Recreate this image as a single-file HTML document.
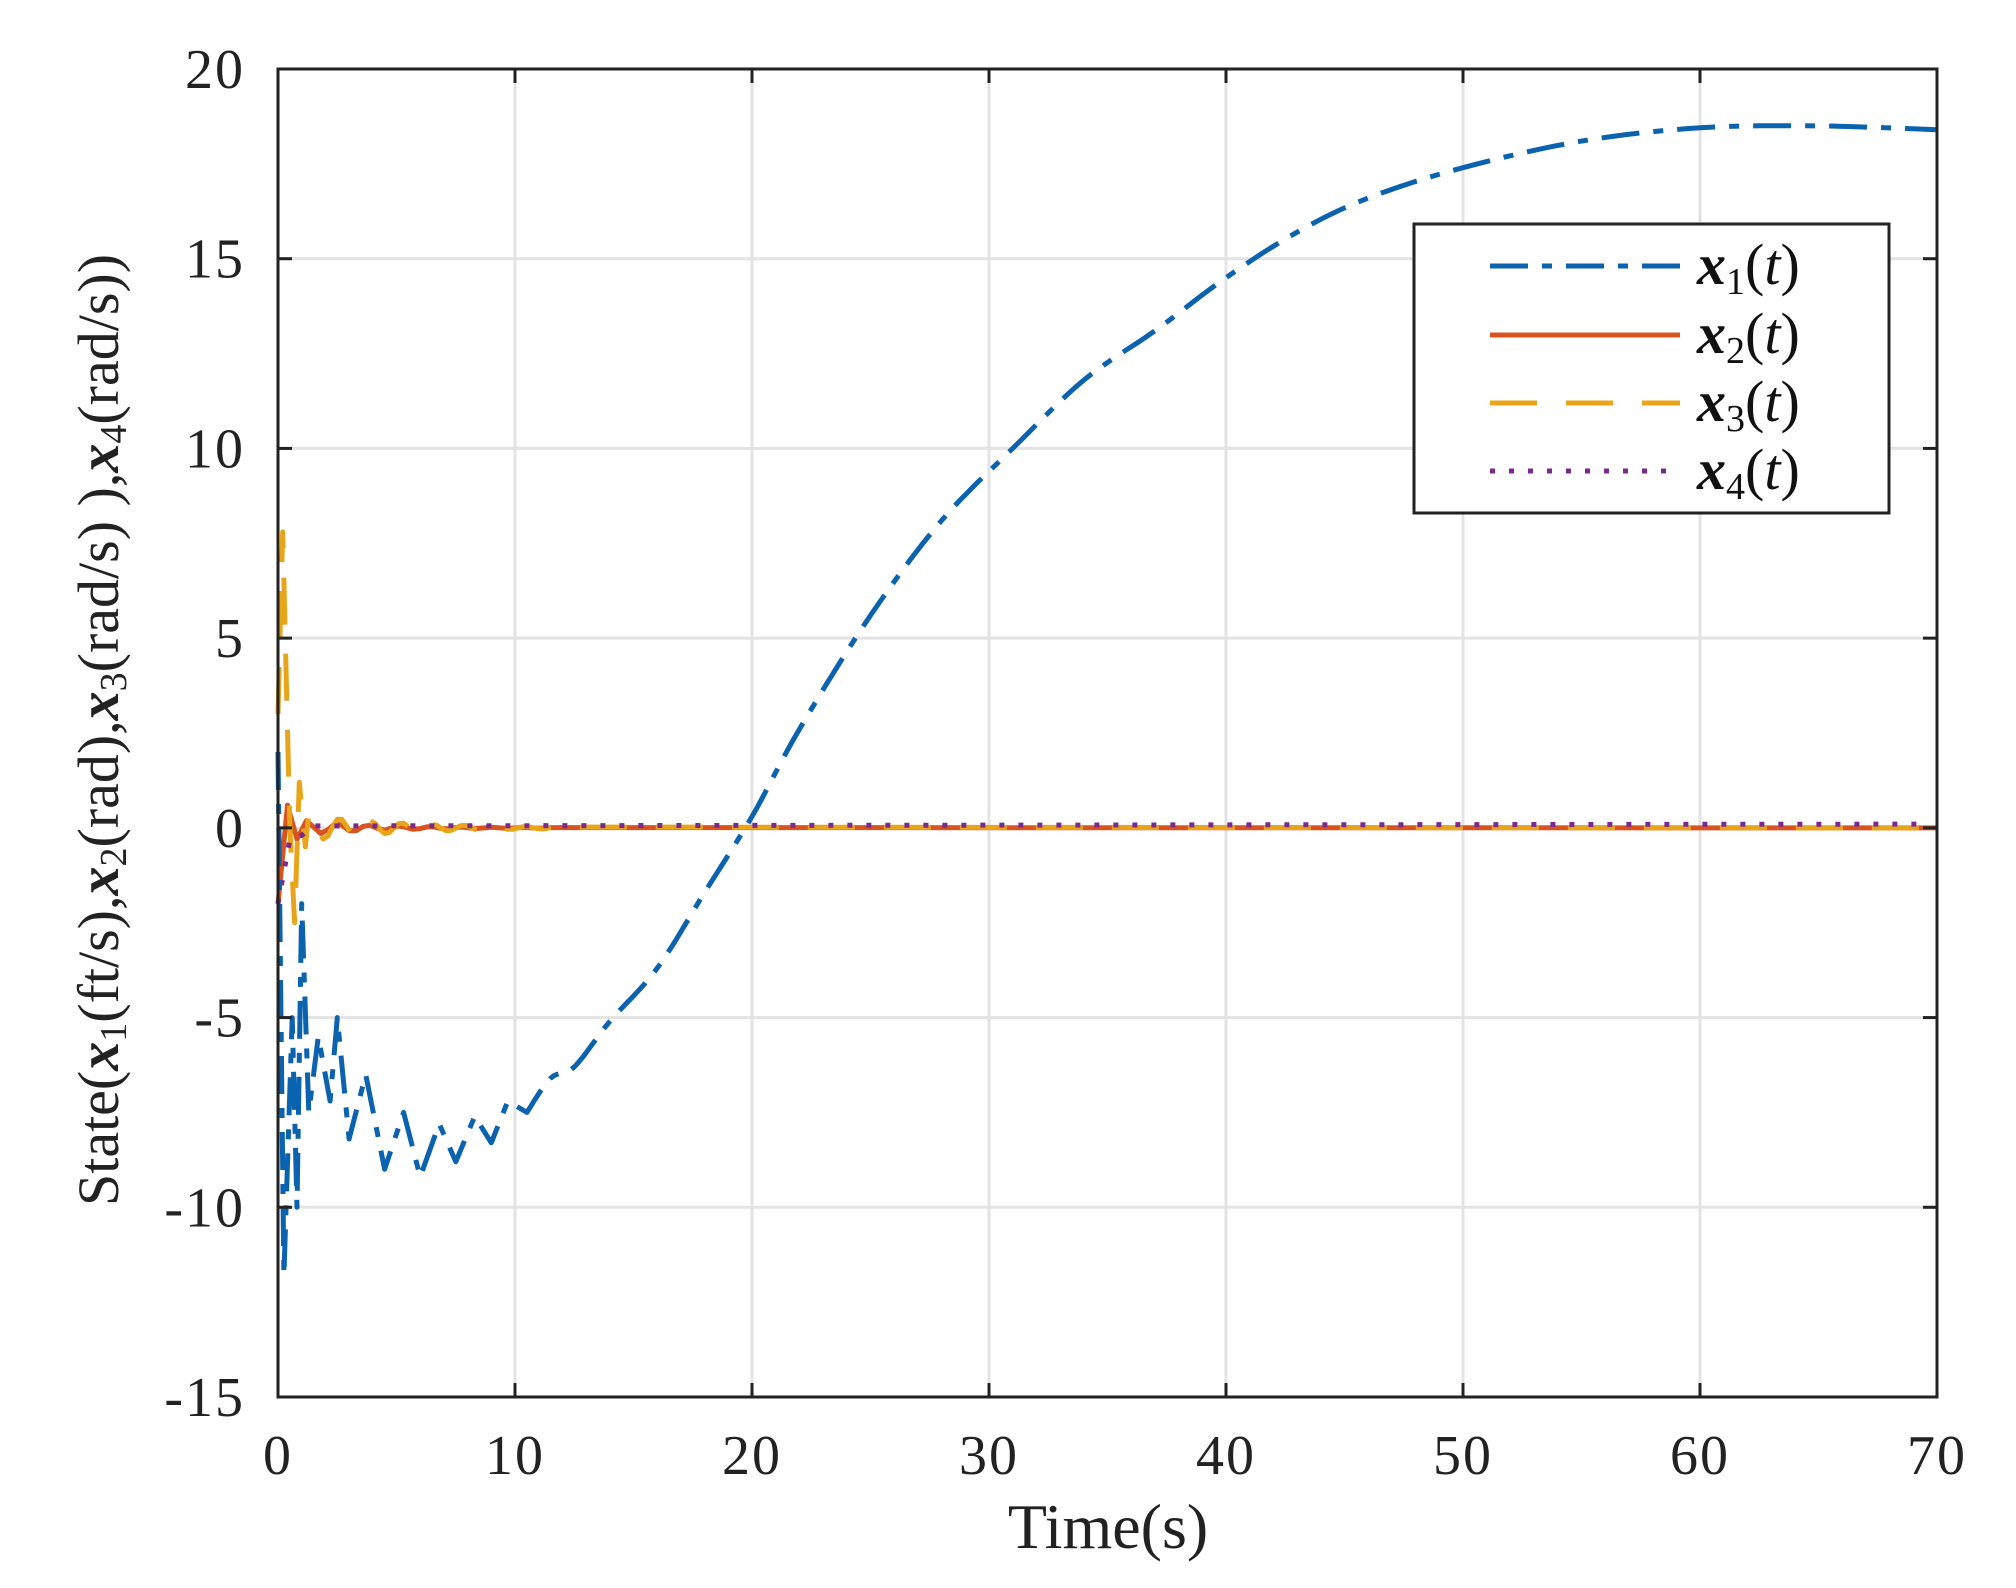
<!DOCTYPE html>
<html><head><meta charset="utf-8"><style>
html,body{margin:0;padding:0;background:#fff;}
svg{display:block;}
</style></head><body>
<svg id="s" width="2016" height="1588" viewBox="0 0 2016 1588" xmlns="http://www.w3.org/2000/svg" font-family="'Liberation Serif', serif">
<rect width="2016" height="1588" fill="#fff"/>
<g id="grid" stroke="#e3e3e3" stroke-width="3"></g>
<g id="series" fill="none" stroke-linejoin="round"></g>
<g id="axes"></g>
<g id="legend">
<rect x="1414" y="224" width="475" height="289" fill="#fff" stroke="#222" stroke-width="3"/>
<line x1="1490" y1="266" x2="1680" y2="266" stroke="#0b63b0" stroke-width="5" stroke-dasharray="38,14,10,14"/>
<line x1="1490" y1="335" x2="1680" y2="335" stroke="#d9531e" stroke-width="5"/>
<line x1="1490" y1="403" x2="1680" y2="403" stroke="#e9a51a" stroke-width="5" stroke-dasharray="47,29"/>
<line x1="1490" y1="471" x2="1680" y2="471" stroke="#7a2a8f" stroke-width="5" stroke-dasharray="5,14"/>
<g font-size="58" fill="#111">
<text x="1697" y="284"><tspan font-style="italic" font-weight="bold">x</tspan><tspan font-size="38" dy="10">1</tspan><tspan dy="-10">(</tspan><tspan font-style="italic">t</tspan>)</text>
<text x="1697" y="353"><tspan font-style="italic" font-weight="bold">x</tspan><tspan font-size="38" dy="10">2</tspan><tspan dy="-10">(</tspan><tspan font-style="italic">t</tspan>)</text>
<text x="1697" y="421"><tspan font-style="italic" font-weight="bold">x</tspan><tspan font-size="38" dy="10">3</tspan><tspan dy="-10">(</tspan><tspan font-style="italic">t</tspan>)</text>
<text x="1697" y="489"><tspan font-style="italic" font-weight="bold">x</tspan><tspan font-size="38" dy="10">4</tspan><tspan dy="-10">(</tspan><tspan font-style="italic">t</tspan>)</text>
</g>
</g>
<text x="1108" y="1548" font-size="64" text-anchor="middle" fill="#222">Time(s)</text>
<text transform="translate(118,730) rotate(-90)" font-size="58" text-anchor="middle" fill="#222">State(<tspan font-style="italic" font-weight="bold">x</tspan><tspan font-size="38" dy="8">1</tspan><tspan dy="-8">(ft/s),</tspan><tspan font-style="italic" font-weight="bold">x</tspan><tspan font-size="38" dy="8">2</tspan><tspan dy="-8">(rad),</tspan><tspan font-style="italic" font-weight="bold">x</tspan><tspan font-size="38" dy="8">3</tspan><tspan dy="-8">(rad/s) ),</tspan><tspan font-style="italic" font-weight="bold">x</tspan><tspan font-size="38" dy="8">4</tspan><tspan dy="-8">(rad/s))</tspan></text>
</svg>
<script>
var X0=278,X1=1937,Y20=69,Ym15=1397;
function X(t){return X0+(X1-X0)*t/70;}
function Y(v){return Y20+(20-v)*(Ym15-Y20)/35;}
var NS="http://www.w3.org/2000/svg";
function el(p,n,a){var e=document.createElementNS(NS,n);for(var k in a)e.setAttribute(k,a[k]);p.appendChild(e);return e;}
var g=document.getElementById('grid'),ax=document.getElementById('axes'),sr=document.getElementById('series');
for(var t=10;t<70;t+=10)el(g,'line',{x1:X(t),x2:X(t),y1:Y20,y2:Ym15});
for(var v=-10;v<20;v+=5)el(g,'line',{x1:X0,x2:X1,y1:Y(v),y2:Y(v)});
el(ax,'rect',{x:X0,y:Y20,width:X1-X0,height:Ym15-Y20,fill:'none',stroke:'#222','stroke-width':3});
for(var t=0;t<=70;t+=10){el(ax,'line',{x1:X(t),x2:X(t),y1:Ym15,y2:Ym15-14,stroke:'#222','stroke-width':3});el(ax,'line',{x1:X(t),x2:X(t),y1:Y20,y2:Y20+14,stroke:'#222','stroke-width':3});
 var tx=el(ax,'text',{x:X(t),y:1474,'font-size':56,'text-anchor':'middle',fill:'#222','letter-spacing':2});tx.textContent=t;}
for(var v=-15;v<=20;v+=5){el(ax,'line',{x1:X0,x2:X0+14,y1:Y(v),y2:Y(v),stroke:'#222','stroke-width':3});el(ax,'line',{x1:X1,x2:X1-14,y1:Y(v),y2:Y(v),stroke:'#222','stroke-width':3});
 var tx=el(ax,'text',{x:245,y:Y(v)+19,'font-size':56,'text-anchor':'end',fill:'#222','letter-spacing':2});tx.textContent=v;}
function smooth(pts){var out=[];for(var i=0;i<pts.length-1;i++){var p0=pts[Math.max(0,i-1)],p1=pts[i],p2=pts[i+1],p3=pts[Math.min(pts.length-1,i+2)];
 for(var k=0;k<8;k++){var s=k/8,s2=s*s,s3=s2*s;var f=function(a,b,c,d){return 0.5*(2*b+(-a+c)*s+(2*a-5*b+4*c-d)*s2+(-a+3*b-3*c+d)*s3);};
 out.push([f(p0[0],p1[0],p2[0],p3[0]),f(p0[1],p1[1],p2[1],p3[1])]);}}out.push(pts[pts.length-1]);return out;}
function path(pts){return pts.map(function(p,i){return (i?'L':'M')+X(p[0]).toFixed(1)+','+Y(p[1]).toFixed(1);}).join(' ');}
var x1a=[[0,2],[0.25,-11.8],[0.6,-5],[0.8,-10],[1.0,-2],[1.3,-7.5],[1.7,-5.5],[2.2,-7.2],[2.5,-5],[3.0,-8.2],[3.7,-6.5],[4.5,-9],[5.3,-7.5],[6,-9.2],[6.8,-7.8],[7.5,-8.8],[8.3,-7.6],[9,-8.3],[9.7,-7.2],[10.5,-7.5]];
var x1b=[[10.5,-7.5],[11.5,-6.6],[12.5,-6.3],[14,-5.1],[16,-3.7],[18,-1.7],[20,0.3],[22,2.6],[25,5.6],[28,8.1],[31,10],[34,11.8],[37,13.1],[40,14.5],[43,15.7],[46,16.6],[50,17.4],[55,18.1],[60,18.45],[65,18.5],[70,18.4]];
var x1=x1a.concat(smooth(x1b).slice(1));
var x2=[[0,-2],[0.4,0.6],[0.8,-0.3]];for(var t=1.2;t<=12;t+=0.3)x2.push([t,0.2*Math.exp(-(t-1)/3)*Math.cos((t-1.2)*4.8)]);x2.push([70,0]);
var x3=[[0,3],[0.2,7.8],[0.5,0],[0.7,-2.5],[0.9,1.2],[1.15,-0.5]];for(var t=1.3;t<=12;t+=0.2)x3.push([t,0.35*Math.exp(-(t-1.3)/4)*Math.cos((t-1.3)*4.8)]);x3.push([70,0]);
var x4=[[0,-2],[0.5,-0.3],[1,-0.2]];for(var t=1.5;t<=70;t+=1)x4.push([t,0.05+0.05*t/70]);
el(sr,'path',{d:path(x2),stroke:'#d9531e','stroke-width':5});
el(sr,'path',{d:path(x3),stroke:'#e9a51a','stroke-width':5,'stroke-dasharray':'47,29'});
el(sr,'path',{d:path(x4),stroke:'#7a2a8f','stroke-width':5,'stroke-dasharray':'5,14'});
el(sr,'path',{d:path(x1),stroke:'#0b63b0','stroke-width':5,'stroke-dasharray':'38,14,10,14'});
</script>
</body></html>
